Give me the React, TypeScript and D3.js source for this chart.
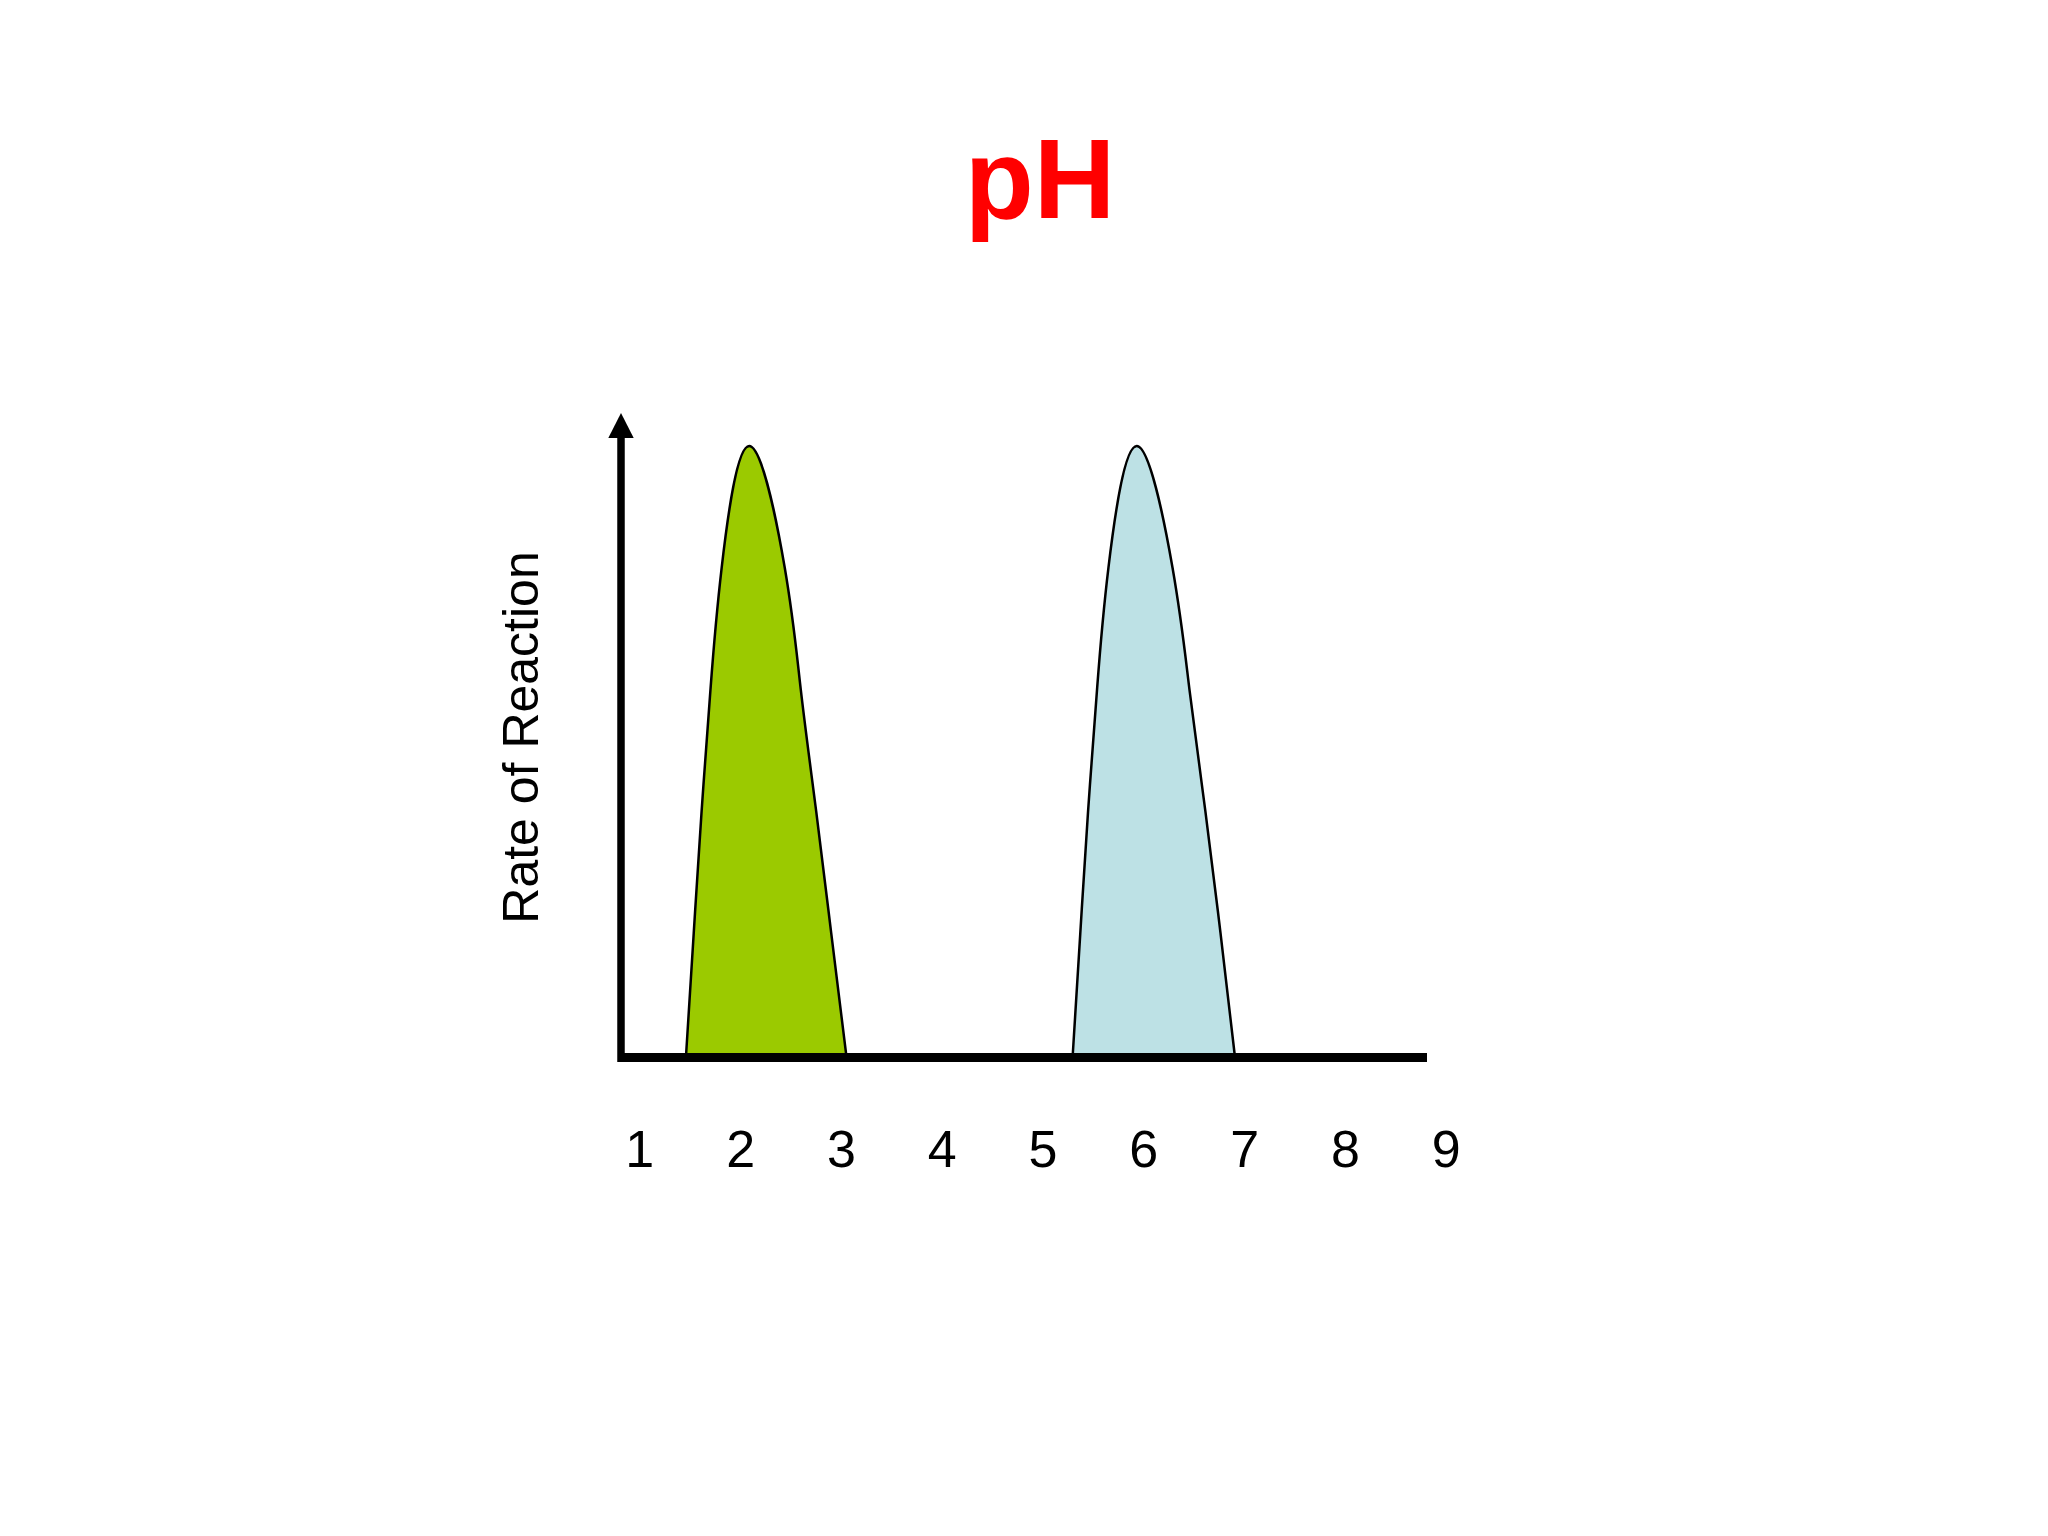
import { useEffect, useRef } from "react";
import * as d3 from "d3";

// pH tick labels along the bottom
const phTicks = [1, 2, 3, 4, 5, 6, 7, 8, 9];

// green enzyme (acidic optimum): [pH, rate of reaction %]
const greenCurve: [number, number][] = [
  [1.464, 0],
  [1.54, 20],
  [1.618, 40],
  [1.706, 60],
  [1.817, 80],
  [2.09, 100],
  [2.443, 80],
  [2.602, 60],
  [2.755, 40],
  [2.904, 20],
  [3.053, 0],
];

// blue enzyme (neutral optimum)
const blueCurve: [number, number][] = [
  [5.3, 0],
  [5.375, 20],
  [5.452, 40],
  [5.541, 60],
  [5.654, 80],
  [5.935, 100],
  [6.29, 80],
  [6.458, 60],
  [6.616, 40],
  [6.766, 20],
  [6.907, 0],
];

const curveColors = ["#9bca00", "#bde1e5"];

const FONT = "'Liberation Sans', Arial, Helvetica, sans-serif";

export default function App() {
  const width = 2048;
  const height = 1536;
  const svgRef = useRef<SVGSVGElement>(null);

  useEffect(() => {
    const svg = d3.select(svgRef.current);
    svg.selectAll("*").remove();

    const axisX = 621; // vertical axis position
    const axisEnd = 1427; // right end of horizontal axis
    const axisY = 1057.5; // horizontal axis position
    const arrowTip = 413;

    const x = d3.scaleLinear().domain([1, 9]).range([639.3, 1445.7]);
    const y = d3.scaleLinear().domain([0, 100]).range([1055, 446]);

    svg
      .append("rect")
      .attr("width", width)
      .attr("height", height)
      .attr("fill", "#ffffff");

    // title
    svg
      .append("text")
      .attr("x", 1040)
      .attr("y", 218)
      .attr("text-anchor", "middle")
      .attr("font-family", FONT)
      .attr("font-weight", "bold")
      .attr("font-size", 113)
      .attr("fill", "#ff0000")
      .text("pH");

    // smooth bell shapes, closed down to the baseline
    const area = d3
      .area<[number, number]>()
      .x((d) => x(d[0]))
      .y0(y(0))
      .y1((d) => y(d[1]))
      .curve(d3.curveNatural);

    [greenCurve, blueCurve].forEach((data, i) => {
      svg
        .append("path")
        .datum(data)
        .attr("d", area)
        .attr("fill", curveColors[i])
        .attr("stroke", "#000")
        .attr("stroke-width", 2.5)
        .attr("stroke-linejoin", "round");
    });

    // axes
    svg
      .append("line")
      .attr("x1", axisX)
      .attr("x2", axisX)
      .attr("y1", arrowTip + 22)
      .attr("y2", axisY + 4.5)
      .attr("stroke", "#000")
      .attr("stroke-width", 7.5);
    svg
      .append("path")
      .attr(
        "d",
        `M${axisX},${arrowTip} L${axisX + 12.7},${arrowTip + 25} L${axisX - 12.7},${arrowTip + 25} Z`
      )
      .attr("fill", "#000");
    svg
      .append("line")
      .attr("x1", axisX)
      .attr("x2", axisEnd)
      .attr("y1", axisY)
      .attr("y2", axisY)
      .attr("stroke", "#000")
      .attr("stroke-width", 9);

    // tick labels
    const xAxis = svg
      .append("g")
      .attr("transform", `translate(0,${axisY})`)
      .call(
        d3
          .axisBottom(x)
          .tickValues(phTicks)
          .tickSize(0)
          .tickPadding(72.6)
          .tickFormat(d3.format("d"))
      );
    xAxis.select(".domain").remove();
    xAxis
      .attr("font-family", FONT)
      .attr("font-size", 52)
      .selectAll("text")
      .attr("fill", "#000");

    // y label
    svg
      .append("text")
      .attr("transform", `translate(538,737.5) rotate(-90)`)
      .attr("text-anchor", "middle")
      .attr("font-family", FONT)
      .attr("font-size", 50)
      .attr("fill", "#000")
      .text("Rate of Reaction");
  }, []);

  return (
    <svg
      ref={svgRef}
      width={width}
      height={height}
      style={{ position: "absolute", left: 0, top: 0, display: "block" }}
    ></svg>
  );
}
